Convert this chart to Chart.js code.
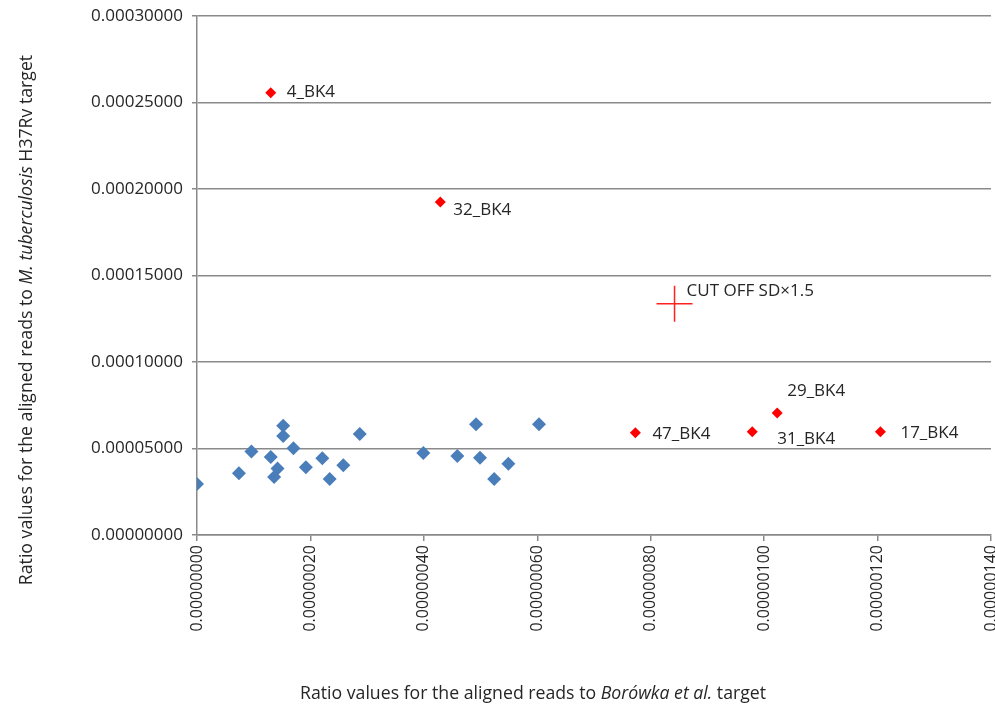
<!DOCTYPE html>
<html>
<head>
<meta charset="utf-8">
<script src="https://cdn.jsdelivr.net/npm/chart.js@4"></script>
<style>
  html, body { margin: 0; padding: 0; background: #fff; }
  #wrap { width: 995px; height: 704px; }
</style>
</head>
<body>
<div id="wrap"><canvas id="myChart" width="995" height="704"></canvas></div>
<script>
// 青い点（その他のサンプル）
const blueX = [0, 0.74e-7, 0.96e-7, 1.30e-7, 1.52e-7, 1.52e-7, 1.70e-7, 1.42e-7, 1.36e-7, 1.92e-7, 2.21e-7,
  2.34e-7, 2.58e-7, 2.87e-7, 3.99e-7, 4.59e-7, 4.92e-7, 4.99e-7, 5.24e-7, 5.49e-7, 6.03e-7];
const blueY = [2.95e-5, 3.57e-5, 4.82e-5, 4.51e-5, 6.32e-5, 5.72e-5, 5.01e-5, 3.85e-5, 3.35e-5, 3.91e-5, 4.43e-5,
  3.24e-5, 4.03e-5, 5.84e-5, 4.74e-5, 4.57e-5, 6.40e-5, 4.47e-5, 3.24e-5, 4.12e-5, 6.40e-5];

// 赤い点（陽性サンプル）
const redLabels = ['4_BK4', '32_BK4', '47_BK4', '31_BK4', '29_BK4', '17_BK4'];
const redX = [1.30e-7, 4.29e-7, 7.73e-7, 9.79e-7, 10.23e-7, 12.05e-7];
const redY = [25.57e-5, 19.25e-5, 5.91e-5, 5.97e-5, 7.05e-5, 5.97e-5];

// カットオフ
const cutoffLabel = 'CUT OFF SD×1.5';
const cutoffX = [8.42e-7];
const cutoffY = [13.37e-5];

// 軸の目盛り
const xTicks = [0, 2e-7, 4e-7, 6e-7, 8e-7, 10e-7, 12e-7, 14e-7];
const yTicks = [0, 5e-5, 10e-5, 15e-5, 20e-5, 25e-5, 30e-5];

const axisColor = '#8a8a8a';
const textColor = '#262626';
const fontFamily = "'Open Sans', sans-serif";

// ラベルの位置（点からのずれ）
const labelOffsets = {
  '4_BK4': [16, 0], '32_BK4': [13, 8], '47_BK4': [17, 1], '31_BK4': [25, 7],
  '29_BK4': [10, -22], '17_BK4': [20, 1], 'CUT OFF SD×1.5': [12, -13]
};

// 点ラベルと軸タイトルを描くプラグイン
const labelPlugin = {
  id: 'labelPlugin',
  afterDraw(chart) {
    const ctx = chart.ctx;
    const xs = chart.scales.x;
    const ys = chart.scales.y;
    ctx.save();
    ctx.fillStyle = textColor;
    ctx.font = '17px ' + fontFamily;
    ctx.textAlign = 'left';
    ctx.textBaseline = 'middle';
    const names = redLabels.concat([cutoffLabel]);
    const px = redX.concat(cutoffX);
    const py = redY.concat(cutoffY);
    names.forEach(function(name, i) {
      const off = labelOffsets[name];
      ctx.fillText(name, xs.getPixelForValue(px[i]) + off[0], ys.getPixelForValue(py[i]) + off[1]);
    });

    // 斜体を含むタイトルを描く
    function drawParts(parts, cx, cy) {
      let total = 0;
      parts.forEach(function(p) {
        ctx.font = (p[1] ? 'italic ' : '') + '17.7px ' + fontFamily;
        total += ctx.measureText(p[0]).width;
      });
      let x = cx - total / 2;
      parts.forEach(function(p) {
        ctx.font = (p[1] ? 'italic ' : '') + '17.7px ' + fontFamily;
        ctx.fillText(p[0], x, cy);
        x += ctx.measureText(p[0]).width;
      });
    }
    ctx.textBaseline = 'middle';
    drawParts([['Ratio values for the aligned reads to ', false], ['Borówka et al.', true], [' target', false]], 533, 694);
    ctx.translate(27, 320);
    ctx.rotate(-Math.PI / 2);
    drawParts([['Ratio values for the aligned reads to ', false], ['M. tuberculosis', true], [' H37Rv target', false]], 0, 0);
    ctx.restore();
  }
};

const ctx = document.getElementById('myChart').getContext('2d');
const chart = new Chart(ctx, {
  type: 'scatter',
  data: {
    datasets: [
      {
        label: 'samples',
        data: blueX.map(function(x, i) { return { x: x, y: blueY[i] }; }),
        pointStyle: 'rectRot',
        pointRadius: 7,
        backgroundColor: '#4a7ebb',
        borderColor: '#4a7ebb',
        borderWidth: 0,
      },
      {
        label: 'positive',
        data: redX.map(function(x, i) { return { x: x, y: redY[i] }; }),
        pointStyle: 'rectRot',
        pointRadius: 5.5,
        backgroundColor: '#ff0000',
        borderColor: '#ff0000',
        borderWidth: 0,
      },
      {
        label: 'cutoff',
        data: cutoffX.map(function(x, i) { return { x: x, y: cutoffY[i] }; }),
        pointStyle: 'cross',
        pointRadius: 18,
        borderColor: '#ff2020',
        borderWidth: 1.5,
      },
    ],
  },
  options: {
    responsive: false,
    animation: false,
    layout: { autoPadding: false, padding: { top: 16, right: 4, left: 0, bottom: 0 } },
    plugins: { legend: { display: false }, tooltip: { enabled: false } },
    scales: {
      x: {
        type: 'linear',
        min: xTicks[0],
        max: xTicks[xTicks.length - 1],
        afterBuildTicks: function(scale) { scale.ticks = xTicks.map(function(v) { return { value: v }; }); },
        afterFit: function(scale) { scale.height = 169; scale.paddingLeft = 0; scale.paddingRight = 0; },
        grid: { drawOnChartArea: false, drawTicks: true, tickLength: 6, color: axisColor, lineWidth: 1.5 },
        border: { display: true, color: axisColor, width: 1.5 },
        ticks: {
          minRotation: 90, maxRotation: 90, padding: 4, color: textColor,
          font: { family: fontFamily, size: 16 },
          callback: function(v) { return Number(v).toFixed(8); }
        },
      },
      y: {
        type: 'linear',
        min: yTicks[0],
        max: yTicks[yTicks.length - 1],
        afterBuildTicks: function(scale) { scale.ticks = yTicks.map(function(v) { return { value: v }; }); },
        afterFit: function(scale) { scale.width = 197; scale.paddingTop = 0; scale.paddingBottom = 0; },
        grid: { drawTicks: true, tickLength: 5, color: axisColor, lineWidth: 1.5 },
        border: { display: true, color: axisColor, width: 1.5 },
        ticks: {
          padding: 9, color: textColor,
          font: { family: fontFamily, size: 17 },
          callback: function(v) { return Number(v).toFixed(8); }
        },
      },
    },
  },
  plugins: [labelPlugin],
});
</script>
</body>
</html>
